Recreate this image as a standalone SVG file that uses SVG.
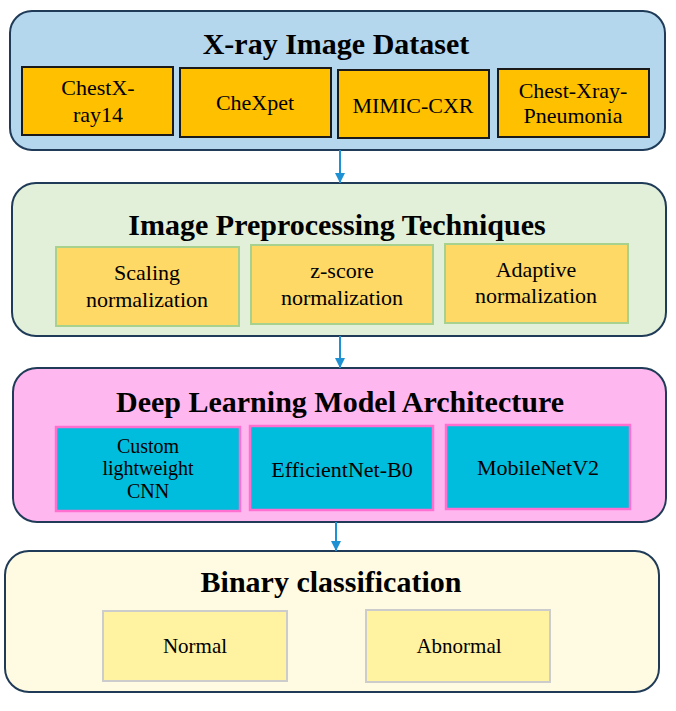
<svg xmlns="http://www.w3.org/2000/svg" width="676" height="711" viewBox="0 0 676 711">
<defs>
<style>
.outer{stroke:#1f3b57;stroke-width:2}
.title{font-family:"Liberation Serif","Times New Roman",serif;font-weight:bold;font-size:30px;fill:#000;text-anchor:middle}
.lbl{font-family:"Liberation Serif","Times New Roman",serif;font-size:22px;fill:#000;text-anchor:middle}
.sm{font-size:20px}
.md{font-size:21px}
.ds{fill:#FFC000;stroke:#1a1a1a;stroke-width:2}
.pp{fill:#FFD966;stroke:#A9D18E;stroke-width:2}
.dl{fill:#00BCDD;stroke:#FF6FCF;stroke-width:2.5}
.bc{fill:#FFF2A1;stroke:#CCCCCC;stroke-width:2}
.conn{stroke:#1E90D4;stroke-width:2;fill:none}
</style>
<marker id="ah" viewBox="0 0 10 10" refX="10" refY="5" markerWidth="5" markerHeight="5" orient="auto" markerUnits="strokeWidth">
<path d="M0,0 L10,5 L0,10 z" fill="#1E90D4"/>
</marker>
</defs>
<rect width="676" height="711" fill="#fff"/>

<g id="dataset">
<rect class="outer" x="10" y="11" width="655" height="139" rx="22" fill="#B4D7EE"/>
<text class="title" x="336" y="54">X-ray Image Dataset</text>
</g>
<g id="chestxray14">
<rect class="ds" x="22" y="67" width="151" height="68"/>
<text class="lbl" x="98" y="95">ChestX-</text>
<text class="lbl" x="98" y="122">ray14</text>
</g>
<g id="chexpet">
<rect class="ds" x="180" y="68" width="151" height="69"/>
<text class="lbl" x="255" y="110">CheXpet</text>
</g>
<g id="mimic">
<rect class="ds" x="338" y="70" width="151" height="68"/>
<text class="lbl" x="413" y="113">MIMIC-CXR</text>
</g>
<g id="pneumonia">
<rect class="ds" x="498" y="69" width="151" height="68"/>
<text class="lbl" x="573" y="98">Chest-Xray-</text>
<text class="lbl" x="573" y="123">Pneumonia</text>
</g>

<g id="preprocessing">
<rect class="outer" x="12" y="183" width="654" height="153" rx="24" fill="#E2F0D9"/>
<text class="title" x="337" y="235">Image Preprocessing Techniques</text>
</g>
<g id="scaling">
<rect class="pp" x="56" y="247" width="183" height="79"/>
<text class="lbl" x="147" y="280">Scaling</text>
<text class="lbl" x="147" y="307">normalization</text>
</g>
<g id="zscore">
<rect class="pp" x="251" y="245" width="182" height="79"/>
<text class="lbl" x="342" y="278">z-score</text>
<text class="lbl" x="342" y="305">normalization</text>
</g>
<g id="adaptive">
<rect class="pp" x="445" y="244" width="183" height="79"/>
<text class="lbl" x="536" y="277">Adaptive</text>
<text class="lbl" x="536" y="303">normalization</text>
</g>

<g id="deeplearning">
<rect class="outer" x="13" y="368" width="653" height="154" rx="24" fill="#FFB7F0"/>
<text class="title" x="340" y="412">Deep Learning Model Architecture</text>
</g>
<g id="customcnn">
<rect class="dl" x="56" y="427" width="184" height="84"/>
<text class="lbl sm" x="148" y="453">Custom</text>
<text class="lbl sm" x="148" y="475">lightweight</text>
<text class="lbl sm" x="148" y="498">CNN</text>
</g>
<g id="efficientnet">
<rect class="dl" x="250" y="426" width="183" height="84"/>
<text class="lbl" x="342" y="477">EfficientNet-B0</text>
</g>
<g id="mobilenet">
<rect class="dl" x="446" y="425" width="184" height="84"/>
<text class="lbl" x="538" y="475">MobileNetV2</text>
</g>

<g id="binary">
<rect class="outer" x="5" y="551" width="654" height="141" rx="24" fill="#FFFBE3"/>
<text class="title" x="331" y="592">Binary classification</text>
</g>
<g id="normal">
<rect class="bc" x="103" y="611" width="184" height="70"/>
<text class="lbl md" x="195" y="653">Normal</text>
</g>
<g id="abnormal">
<rect class="bc" x="366" y="610" width="184" height="72"/>
<text class="lbl md" x="459" y="653">Abnormal</text>
</g>

<g id="connectors">
<line class="conn" x1="340" y1="150" x2="340" y2="183" marker-end="url(#ah)"/>
<line class="conn" x1="340" y1="336" x2="340" y2="368" marker-end="url(#ah)"/>
<line class="conn" x1="336" y1="522" x2="336" y2="551" marker-end="url(#ah)"/>
</g>
</svg>
